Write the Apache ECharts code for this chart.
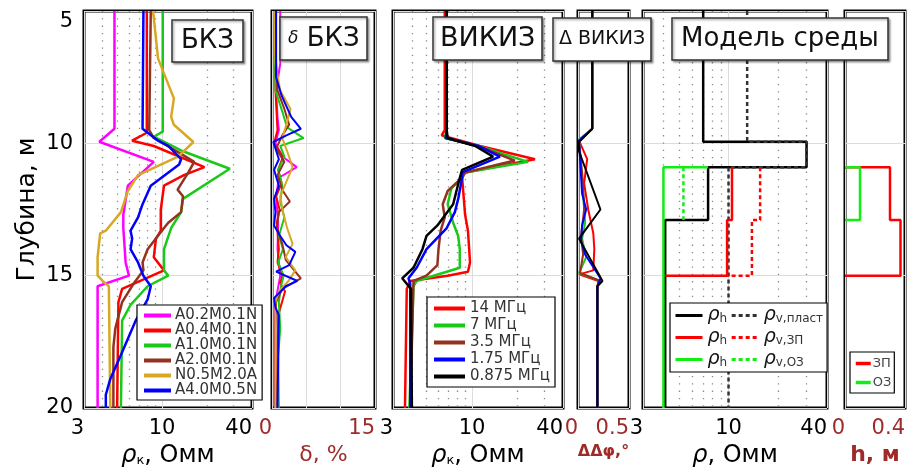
<!DOCTYPE html>
<html><head><meta charset="utf-8">
<script src="https://cdn.jsdelivr.net/npm/echarts@6/dist/echarts.min.js"></script>
<style>html,body{margin:0;padding:0;background:#fff}#c{width:915px;height:476px}</style>
</head><body><div id="c"></div>
<script>
// ---------- DATA ----------
const depthTicks = [5, 10, 15, 20];
const rhoTicks = [3, 10, 40];
const rhoMinorGrid = [4, 5, 6, 7, 8, 9, 20, 30];

const bkzNames = ['A0.2M0.1N', 'A0.4M0.1N', 'A1.0M0.1N', 'A2.0M0.1N', 'N0.5M2.0A', 'A4.0M0.5N'];
const bkzDepthA02 = [5, 9.45, 9.94, 10.7, 11.6, 12.7, 13.2, 14.5, 15.0, 15.4, 20];
const bkzRhoA02   = [4.8, 4.8, 3.8, 8.8, 5.9, 5.5, 5.5, 5.7, 6.0, 3.7, 3.7];
const bkzDepthA04 = [5, 9.6, 9.9, 10.1, 10.9, 11.2, 11.6, 12.5, 13.3, 13.6, 14.3, 14.8, 15.5, 16.0, 20];
const bkzRhoA04   = [7.9, 7.9, 6.3, 8.8, 19.2, 14.0, 10.3, 9.8, 9.8, 9.1, 8.8, 10.3, 5.4, 5.1, 5.0];
const bkzDepthA10 = [5, 9.56, 9.75, 10.3, 10.96, 12.1, 12.6, 13.2, 14.0, 14.8, 15.0, 15.4, 16.1, 16.7, 20];
const bkzRhoA10   = [10.1, 10.1, 8.8, 13.8, 28.4, 13.8, 13.4, 11.5, 10.3, 10.3, 11.0, 8.0, 6.15, 5.4, 5.3];
const bkzDepthA20 = [5, 9.5, 9.8, 10.4, 10.7, 11.1, 11.75, 12.0, 12.6, 13.0, 13.2, 14.0, 14.5, 14.8, 15.3, 16.0, 17.0, 17.7, 20];
const bkzRhoA20   = [8.4, 8.2, 8.8, 13.4, 16.4, 15.0, 12.7, 13.8, 13.4, 11.0, 10.3, 8.0, 7.4, 7.5, 6.45, 5.4, 4.86, 4.72, 4.72];
const bkzDepthN05 = [5, 6.8, 8.3, 9.0, 9.3, 9.95, 10.5, 11.2, 11.8, 12.6, 13.3, 13.4, 14.3, 15.0, 15.2, 15.4, 20];
const bkzRhoN05   = [8.7, 9.4, 12.0, 11.5, 12.0, 16.2, 12.8, 6.9, 5.9, 5.3, 4.2, 3.85, 3.7, 3.7, 4.0, 4.4, 4.5];
const bkzDepthA40 = [5, 9.45, 9.9, 10.1, 10.6, 10.8, 11.6, 12.3, 12.8, 13.3, 13.6, 14.0, 14.5, 15.0, 15.4, 15.9, 16.7, 18.0, 18.9, 19.5, 20];
const bkzRhoA40   = [7.5, 7.4, 9.4, 11.0, 13.4, 13.0, 8.4, 7.4, 6.9, 6.15, 6.3, 6.15, 6.9, 7.5, 8.4, 8.0, 6.65, 5.3, 4.5, 4.2, 4.2];

const dDepthA02 = [5, 7, 8, 9, 9.5, 10, 10.5, 10.9, 11.3, 12, 13, 14, 15, 16, 17, 20];
const dValA02   = [1.2, 1.2, 0.6, 0.8, 1.0, 0.5, 1.5, 3.6, 1.0, 0.6, 0.9, 0.8, 1.2, 0.5, 0.4, 0.4];
const dDepthA04 = [5, 8, 9.5, 10, 10.5, 11, 11.5, 12, 12.5, 13, 14, 14.5, 15, 15.3, 15.6, 16.5, 20];
const dValA04   = [0.4, 0.5, 0.8, 0.3, 1.6, 0.9, 1.4, 0.6, 1.1, 0.7, 1.0, 0.8, 1.5, 1.2, 1.9, 0.9, 0.7];
const dDepthA10 = [5, 8, 8.8, 9.4, 9.8, 10.1, 10.5, 11, 11.6, 12.2, 12.8, 13.5, 14.0, 14.5, 15, 15.4, 16, 17, 18, 20];
const dValA10   = [0.4, 0.5, 1.5, 2.2, 4.6, 1.2, 1.8, 0.9, 1.5, 1.2, 1.8, 1.0, 1.6, 0.9, 1.7, 1.3, 1.0, 1.2, 0.9, 1.0];
const dDepthA20 = [5, 7, 8, 8.7, 9.3, 9.7, 10.2, 10.7, 11.2, 11.8, 12.2, 12.6, 13.2, 13.8, 14.4, 15.1, 15.5, 16, 17, 20];
const dValA20   = [0.3, 0.6, 0.8, 1.8, 2.5, 1.5, 0.6, 1.8, 0.8, 1.6, 2.6, 1.0, 0.7, 1.5, 2.0, 4.2, 1.5, 0.6, 0.5, 0.5];
const dDepthN05 = [5, 7, 8, 8.7, 9.2, 9.8, 10.3, 10.9, 11.5, 12.0, 12.6, 13.2, 13.8, 14.3, 14.8, 15.2, 15.6, 16, 20];
const dValN05   = [0.3, 0.5, 1.2, 2.7, 2.2, 1.5, 2.2, 3.0, 2.0, 1.2, 1.6, 2.2, 3.0, 2.0, 3.4, 2.4, 1.0, 0.5, 0.5];
const dDepthA40 = [5, 7.5, 8.2, 9.0, 9.45, 9.7, 9.95, 10.6, 11.0, 11.6, 12.1, 12.6, 13.1, 13.5, 13.85, 14.1, 14.6, 14.85, 15.2, 15.4, 15.85, 16.2, 16.5, 20];
const dValA40   = [0.6, 0.6, 1.4, 2.8, 4.2, 2.1, 0.2, 1.0, 0.3, 1.0, 0.3, 0.5, 0.3, 1.2, 2.1, 3.4, 2.5, 0.6, 3.7, 2.0, 0.3, 0.5, 1.0, 0.8];

const vikizNames = ['14 МГц', '7 МГц', '3.5 МГц', '1.75 МГц', '0.875 МГц'];
const vDepth14  = [5, 9.5, 9.7, 10.1, 10.6, 11.1, 11.3, 12.7, 13.3, 14.5, 14.85, 15.0, 15.2, 15.5, 20];
const vRho14    = [6.6, 6.6, 6.3, 11.3, 26.1, 9.0, 8.6, 9.0, 9.4, 9.7, 9.4, 6.9, 3.9, 3.7, 3.6];
const vDepth7   = [5, 9.5, 9.8, 10.1, 10.7, 11.1, 11.3, 11.7, 12.3, 13.0, 13.5, 14.0, 14.7, 15.2, 15.4, 20];
const vRho7     = [6.8, 6.8, 6.6, 11.0, 23.5, 9.0, 8.6, 7.3, 6.9, 7.5, 8.1, 8.3, 8.3, 4.3, 4.1, 3.85];
const vDepth35  = [5, 9.5, 9.8, 10.1, 10.65, 11.1, 11.3, 11.8, 12.3, 12.8, 13.3, 14.0, 14.6, 15.0, 15.2, 20];
const vRho35    = [6.8, 6.8, 6.7, 11.0, 19.2, 9.0, 8.6, 6.9, 6.4, 6.6, 6.2, 6.0, 5.9, 5.0, 4.1, 3.9];
const vDepth175 = [5, 9.5, 9.8, 10.1, 10.5, 11.1, 11.3, 12.1, 12.6, 13.2, 14.0, 14.7, 15.1, 15.3, 20];
const vRho175   = [6.8, 6.8, 6.7, 11.0, 15.3, 8.6, 8.6, 8.1, 7.7, 6.8, 5.0, 4.3, 3.8, 3.9, 3.9];
const vDepth0875 = [5, 9.5, 9.8, 10.1, 10.5, 11.0, 11.3, 12.3, 13.1, 13.5, 14.0, 14.7, 15.1, 15.5, 20];
const vRho0875   = [6.8, 6.8, 6.9, 10.5, 13.8, 8.6, 8.3, 7.5, 5.9, 5.0, 4.7, 4.1, 3.45, 3.95, 4.0];

const pDepth14  = [5, 9.45, 9.9, 10.6, 11.5, 12.5, 13.4, 14.0, 14.8, 14.95, 15.2, 15.4, 20];
const pVal14    = [0.14, 0.14, 0.01, 0.09, 0.06, 0.10, 0.15, 0.16, 0.15, 0.01, 0.20, 0.19, 0.19];
const pDepth7   = [5, 9.45, 9.85, 11.9, 13.0, 13.6, 14.3, 14.9, 15.2, 15.4, 20];
const pVal7     = [0.14, 0.14, 0.01, 0.05, 0.07, 0.04, 0.08, 0.01, 0.22, 0.19, 0.19];
const pDepth35  = [5, 9.45, 9.9, 11.5, 12.5, 13.5, 14.2, 14.9, 15.2, 15.4, 20];
const pVal35    = [0.14, 0.14, 0.01, 0.05, 0.06, 0.03, 0.05, 0.02, 0.22, 0.19, 0.19];
const pDepth175 = [5, 9.45, 9.9, 11.9, 12.5, 13.1, 13.7, 14.2, 15.1, 15.4, 20];
const pVal175   = [0.14, 0.14, 0.01, 0.04, 0.08, 0.04, 0.03, 0.07, 0.22, 0.19, 0.19];
const pDepth0875 = [5, 9.45, 9.95, 10.3, 12.5, 13.6, 15.2, 15.4, 20];
const pVal0875   = [0.14, 0.14, 0.01, 0.01, 0.22, 0.01, 0.24, 0.19, 0.19];

const mDepthHLayer = [5, 9.94, 9.94, 10.9, 10.9, 12.9, 12.9, 20];
const mRhoHLayer   = [7.0, 7.0, 30, 30, 7.5, 7.5, 4.1, 4.1];
const mDepthVLayer = [5, 9.94, 9.94, 10.9, 10.9, 20];
const mRhoVLayer   = [13, 13, 30, 30, 10, 10];
const mDepthHZP = [10.9, 12.9, 12.9, 15, 15];
const mRhoHZP   = [10.5, 10.5, 9.8, 9.8, 4.1];
const mDepthVZP = [10.9, 12.9, 12.9, 15, 15];
const mRhoVZP   = [15.6, 15.6, 13.9, 13.9, 9.8];
const mDepthHOZ = [10.9, 10.9, 20];
const mRhoHOZ   = [7.5, 4.0, 4.0];
const mDepthVOZ = [10.9, 12.9];
const mRhoVOZ   = [5.3, 5.3];

const hDepthZP = [10.9, 10.9, 12.9, 12.9, 15, 15];
const hValZP   = [0, 0.30, 0.30, 0.37, 0.37, 0];
const hDepthOZ = [10.9, 10.9, 12.9, 12.9];
const hValOZ   = [0, 0.10, 0.10, 0];

// ---------- STYLE / LAYOUT ----------
const FONT = 'DejaVu Sans';
const RED_AX = '#9e2a2a';
const cMag = '#ff00ff', cRed = '#ff0000', cGrn = '#19c919', cBrn = '#93321f', cYel = '#d8a824', cBlu = '#0000ff', cBlk = '#000000', cGrnM = '#11ee11';
const grids = [[84, 168], [272, 103], [393, 170], [578, 51], [643, 184], [845, 60]];
const TOP = 11, H = 397;

const zip = (xs, ys) => xs.map((x, i) => [x, ys[i]]);
function mk(name, xs, ys, gi, color, width, dash, extra) {
  return Object.assign({
    type: 'line', name, xAxisIndex: gi, yAxisIndex: gi, data: zip(xs, ys),
    symbol: 'none', silent: true, animation: false, z: 3,
    lineStyle: { color, width, type: dash || 'solid' }, itemStyle: { color }
  }, extra || {});
}
const dotGrid = {
  markLine: {
    silent: true, symbol: ['none', 'none'], label: { show: false }, animation: false, z: 1,
    lineStyle: { color: '#8a8a8a', width: 1.3, type: [1.3, 6] },
    emphasis: { disabled: true },
    data: rhoMinorGrid.map(v => ({ xAxis: v }))
  }
};

const series = [
  // BKZ
  mk(bkzNames[0], bkzRhoA02, bkzDepthA02, 0, cMag, 2.5, null, dotGrid),
  mk(bkzNames[1], bkzRhoA04, bkzDepthA04, 0, cRed, 2.5),
  mk(bkzNames[2], bkzRhoA10, bkzDepthA10, 0, cGrn, 2.5),
  mk(bkzNames[3], bkzRhoA20, bkzDepthA20, 0, cBrn, 2.5),
  mk(bkzNames[4], bkzRhoN05, bkzDepthN05, 0, cYel, 2.5),
  mk(bkzNames[5], bkzRhoA40, bkzDepthA40, 0, cBlu, 2.5),
  // delta BKZ
  mk(bkzNames[0], dValA02, dDepthA02, 1, cMag, 2),
  mk(bkzNames[1], dValA04, dDepthA04, 1, cRed, 2),
  mk(bkzNames[2], dValA10, dDepthA10, 1, cGrn, 2),
  mk(bkzNames[3], dValA20, dDepthA20, 1, cBrn, 2),
  mk(bkzNames[4], dValN05, dDepthN05, 1, cYel, 2),
  mk(bkzNames[5], dValA40, dDepthA40, 1, cBlu, 2),
  // VIKIZ
  mk(vikizNames[0], vRho14, vDepth14, 2, cRed, 2.5, null, dotGrid),
  mk(vikizNames[1], vRho7, vDepth7, 2, cGrn, 2.5),
  mk(vikizNames[2], vRho35, vDepth35, 2, cBrn, 2.5),
  mk(vikizNames[3], vRho175, vDepth175, 2, cBlu, 2.5),
  mk(vikizNames[4], vRho0875, vDepth0875, 2, cBlk, 2.5),
  // delta VIKIZ
  mk(vikizNames[0], pVal14, pDepth14, 3, cRed, 2),
  mk(vikizNames[1], pVal7, pDepth7, 3, cGrn, 2),
  mk(vikizNames[2], pVal35, pDepth35, 3, cBrn, 2),
  mk(vikizNames[3], pVal175, pDepth175, 3, cBlu, 2),
  mk(vikizNames[4], pVal0875, pDepth0875, 3, cBlk, 2),
  // model
  mk('ρh пласт', mRhoHLayer, mDepthHLayer, 4, cBlk, 2.5, null, dotGrid),
  mk('ρv пласт', mRhoVLayer, mDepthVLayer, 4, '#333333', 2.5, [4, 3]),
  mk('ρh ОЗ', mRhoHOZ, mDepthHOZ, 4, cGrnM, 2.5),
  mk('ρv ОЗ', mRhoVOZ, mDepthVOZ, 4, cGrnM, 2.5, [4, 3]),
  mk('ρh ЗП', mRhoHZP, mDepthHZP, 4, cRed, 2.5),
  mk('ρv ЗП', mRhoVZP, mDepthVZP, 4, cRed, 2.5, [4, 3]),
  // h
  mk('ЗП', hValZP, hDepthZP, 5, cRed, 2.5),
  mk('ОЗ', hValOZ, hDepthOZ, 5, cGrnM, 2.5)
];

const nameRich = {
  r: { fontFamily: FONT, fontSize: 24, fontStyle: 'italic', color: '#000' },
  s: { fontFamily: FONT, fontSize: 13, color: '#000', padding: [10, 0, 0, 0] },
  t: { fontFamily: FONT, fontSize: 24, color: '#000' }
};
const logAxisNames = ['{r|ρ}{s|к}{t|, Омм}', '{r|ρ}{s|к}{t|, Омм}', '{r|ρ}{t|, Омм}'];

function xAx(i) {
  const isLog = (i === 0 || i === 2 || i === 4);
  const base = {
    gridIndex: i, axisLine: { show: false }, axisTick: { show: false },
    nameLocation: 'middle', nameGap: 34,
    axisLabel: {
      fontFamily: FONT, fontSize: 21, margin: 10, color: isLog ? '#000' : RED_AX,
      alignMinLabel: 'right', alignMaxLabel: 'right'
    },
    splitLine: { show: true, lineStyle: { color: '#dcdcdc', width: 1 } }
  };
  if (isLog) {
    return Object.assign(base, {
      type: 'log', logBase: 10, min: rhoTicks[0], max: rhoTicks[2],
      name: logAxisNames[i / 2], nameTextStyle: { color: '#000', rich: nameRich },
      axisLabel: Object.assign(base.axisLabel, { formatter: v => String(Math.round(v)) })
    });
  }
  if (i === 1) return Object.assign(base, {
    type: 'value', min: 0, max: 15, interval: 5, name: 'δ, %',
    nameTextStyle: { fontFamily: FONT, fontSize: 22, color: RED_AX },
    axisLabel: Object.assign(base.axisLabel, { formatter: v => (v === 0 || v === 15) ? String(v) : '' })
  });
  if (i === 3) return Object.assign(base, {
    type: 'value', min: 0, max: 0.5, interval: 0.5, name: 'ΔΔφ,°', nameGap: 31,
    nameTextStyle: { fontFamily: FONT, fontSize: 16, color: RED_AX, fontWeight: 'bold' }
  });
  return Object.assign(base, {
    type: 'value', min: 0, max: 0.4, interval: 0.4, name: 'h, м',
    nameTextStyle: { fontFamily: FONT, fontSize: 22, color: RED_AX, fontWeight: 'bold' }
  });
}

function yAx(i) {
  const o = {
    gridIndex: i, type: 'value', min: depthTicks[0], max: depthTicks[3], interval: 5, inverse: true,
    axisLine: { show: false }, axisTick: { show: false },
    axisLabel: { show: i === 0, fontFamily: FONT, fontSize: 21, color: '#000', margin: 11, verticalAlignMinLabel: 'top' },
    splitLine: { show: true, lineStyle: { color: '#dcdcdc', width: 1 } }
  };
  if (i === 0) Object.assign(o, {
    name: 'Глубина, м', nameLocation: 'middle', nameGap: 44, nameRotate: 90,
    nameTextStyle: { fontFamily: FONT, fontSize: 25, color: '#000' }
  });
  return o;
}

const titleBox = (text, left, top, pad, size, rich) => ({
  text, left, top, padding: pad,
  backgroundColor: '#fff', borderColor: '#333', borderWidth: 1.5,
  shadowColor: 'rgba(0,0,0,0.35)', shadowBlur: 2, shadowOffsetX: 1.5, shadowOffsetY: 1.5,
  textStyle: { fontFamily: FONT, fontSize: size, fontWeight: 'normal', color: '#111', rich: rich || {} }
});

const legendRich = {
  r: { fontFamily: FONT, fontSize: 19, fontStyle: 'italic', color: '#111' },
  s: { fontFamily: FONT, fontSize: 12, color: '#333', padding: [7, 0, 0, 0] }
};
const modelLegendText = {
  'ρh пласт': '{r|ρ}{s|h}', 'ρv пласт': '{r|ρ}{s|v,пласт}',
  'ρh ЗП': '{r|ρ}{s|h}', 'ρv ЗП': '{r|ρ}{s|v,ЗП}',
  'ρh ОЗ': '{r|ρ}{s|h}', 'ρv ОЗ': '{r|ρ}{s|v,ОЗ}'
};
const noSym = { opacity: 0, color: 'rgba(0,0,0,0)', borderWidth: 0 };

const option = {
  animation: false,
  backgroundColor: '#fff',
  textStyle: { fontFamily: FONT },
  title: [
    titleBox('БКЗ', 172, 20, [8, 9, 8, 9], 26),
    titleBox('{d|δ} БКЗ', 280, 17, [9, 8, 8, 8], 26, { d: { fontFamily: FONT, fontSize: 17, fontStyle: 'italic' } }),
    titleBox('ВИКИЗ', 433, 17, [8, 7, 8, 7], 27),
    titleBox('Δ ВИКИЗ', 553, 18, [12, 6, 12, 6], 19),
    titleBox('Модель среды', 672, 18, [8, 9, 8, 9], 26)
  ],
  grid: grids.map(g => ({ left: g[0], top: TOP, width: g[1], height: H, show: true, borderColor: '#000', borderWidth: 3, backgroundColor: 'transparent', containLabel: false })),
  xAxis: grids.map((g, i) => xAx(i)),
  yAxis: grids.map((g, i) => yAx(i)),
  legend: [
    {
      data: bkzNames, orient: 'vertical', left: 137, top: 305, itemGap: 0, itemWidth: 27, itemHeight: 14,
      padding: [3, 5, 2, 5], backgroundColor: '#fff', borderColor: '#000', borderWidth: 1.2,
      lineStyle: { width: 4 }, itemStyle: noSym, selectedMode: false,
      textStyle: { fontFamily: FONT, fontSize: 15, color: '#333', padding: [0, 0, 0, -1] }
    },
    {
      data: vikizNames, orient: 'vertical', left: 427, top: 297, itemGap: 2, itemWidth: 31, itemHeight: 14,
      padding: [4, 5, 3, 5], backgroundColor: '#fff', borderColor: '#000', borderWidth: 1.2,
      lineStyle: { width: 4 }, itemStyle: noSym, selectedMode: false,
      textStyle: { fontFamily: FONT, fontSize: 15, color: '#333' }
    },
    {
      data: ['ρh пласт', 'ρv пласт', 'ρh ЗП', 'ρv ЗП', 'ρh ОЗ', 'ρv ОЗ'],
      orient: 'horizontal', left: 670, top: 303, width: 150, itemGap: 3, itemWidth: 27, itemHeight: 14,
      padding: [3, 4, 3, 4], backgroundColor: '#fff', borderColor: '#000', borderWidth: 1.2,
      lineStyle: { width: 3 }, itemStyle: noSym, selectedMode: false,
      formatter: n => modelLegendText[n],
      textStyle: { fontFamily: FONT, fontSize: 13, color: '#333', rich: legendRich }
    },
    {
      data: ['ЗП', 'ОЗ'], orient: 'vertical', left: 850, top: 352, itemGap: 6, itemWidth: 15, itemHeight: 12,
      padding: [5, 3, 4, 4], backgroundColor: '#fff', borderColor: '#000', borderWidth: 1.2,
      lineStyle: { width: 3.5 }, itemStyle: noSym, selectedMode: false,
      textStyle: { fontFamily: FONT, fontSize: 13, color: '#444', padding: [0, 0, 0, -3] }
    }
  ],
  series
};

const chart = echarts.init(document.getElementById('c'), null, { renderer: 'canvas' });
chart.setOption(option);
</script></body></html>
